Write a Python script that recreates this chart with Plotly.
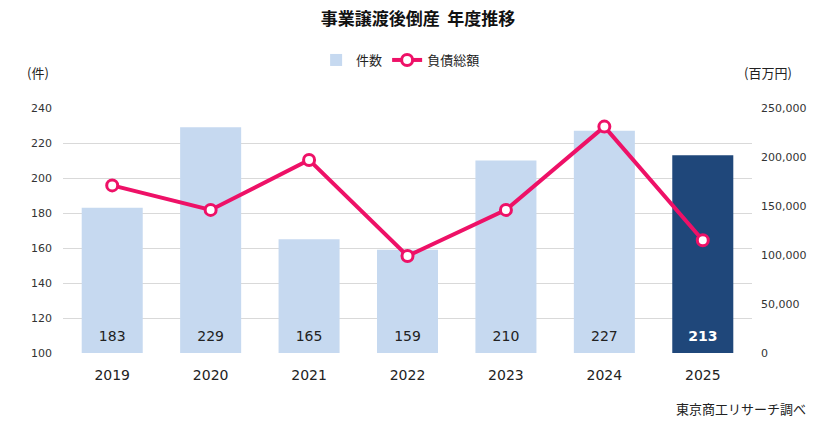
import plotly.graph_objects as go

years = ["2019", "2020", "2021", "2022", "2023", "2024", "2025"]
cases = [183, 229, 165, 159, 210, 227, 213]
debt = [171000, 146000, 197000, 99000, 146000, 231000, 115000]

light = "#c6d9f0"
dark = "#1f477a"
pink = "#ee1167"
jp = "Noto Sans CJK JP"
num = "DejaVu Sans"

W, H = 836, 435
L, R, T, B = 63, 84, 108, 82

bar_colors = [light] * (len(years) - 1) + [dark]
text_colors = ["#222222"] * (len(years) - 1) + ["white"]
labels = [str(v) for v in cases]
labels[-1] = "<b>" + labels[-1] + "</b>"

fig = go.Figure()
fig.add_trace(go.Bar(
    x=years, y=[v - 100 for v in cases], base=100, name="件数",
    marker=dict(color=bar_colors, line=dict(width=0)),
    width=0.62, hoverinfo="x+text", hovertext=labels,
))
# value labels near the bar base
fig.add_trace(go.Scatter(
    x=years, y=[109] * len(years), mode="text", text=labels,
    textfont=dict(family=num, size=14, color=text_colors),
    showlegend=False, hoverinfo="skip",
))
fig.add_trace(go.Scatter(
    x=years, y=debt, name="負債総額", yaxis="y2", mode="lines+markers",
    line=dict(color=pink, width=4),
    marker=dict(symbol="circle", size=11, color="white", line=dict(color=pink, width=3)),
))

fig.update_layout(
    width=W, height=H,
    margin=dict(l=L, r=R, t=T, b=B, autoexpand=False),
    plot_bgcolor="white", paper_bgcolor="white",
    title=dict(text="<b>事業譲渡後倒産  年度推移</b>", x=0.5, xanchor="center",
               yref="container", y=1 - 19 / H, yanchor="middle",
               font=dict(family=jp, size=17, color="#111111")),
    legend=dict(orientation="h", x=0.49, xanchor="center",
                yref="container", y=1 - 60 / H, yanchor="middle",
                font=dict(family=jp, size=13, color="#222222")),
    xaxis=dict(showgrid=False, showline=False, ticks="",
               tickfont=dict(family=num, size=14, color="#222222"),
               ticklabelstandoff=12),
    yaxis=dict(range=[100, 240], dtick=20, showgrid=True, gridcolor="#d9d9d9",
               zeroline=False, tickfont=dict(family=num, size=11, color="#333333"),
               ticklabelstandoff=10),
    yaxis2=dict(range=[0, 250000], dtick=50000, overlaying="y", side="right",
                showgrid=False, zeroline=False, tickformat=",",
                tickfont=dict(family=num, size=11, color="#333333"),
                ticklabelstandoff=8),
)

pw = W - L - R
ph = H - T - B
for text, px_, py_, anchor in [("(件)", 38, 72, "center"),
                               ("(百万円)", 768, 72, "center"),
                               ("東京商工リサーチ調べ", 808, 408, "right")]:
    fig.add_annotation(text=text, xref="paper", yref="paper",
                       x=(px_ - L) / pw, y=(H - B - py_) / ph,
                       xanchor=anchor, yanchor="middle", showarrow=False,
                       font=dict(family=jp, size=13, color="#222222"))

fig.write_html("out.html", config={"displayModeBar": False},
               post_script="document.body.style.margin='0';")
